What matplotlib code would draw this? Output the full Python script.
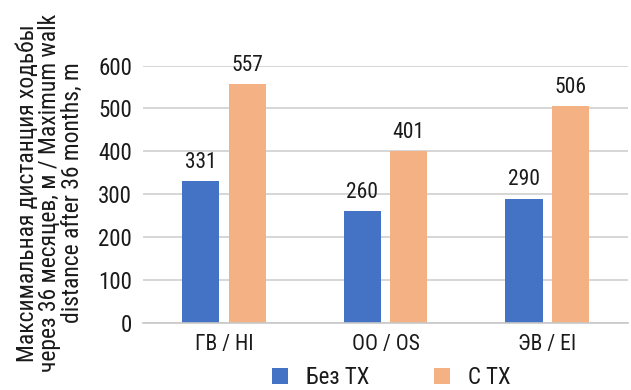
import matplotlib
matplotlib.use("Agg")
import matplotlib.pyplot as plt
import numpy as np
from matplotlib import font_manager

names = {f.name for f in font_manager.fontManager.ttflist}
family = "DejaVu Sans"
for cand in ("Roboto Condensed", "Liberation Sans Narrow", "Open Sans Condensed"):
    if cand in names:
        family = cand
        break
plt.rcParams["font.family"] = [family, "DejaVu Sans"]
if family == "DejaVu Sans":
    plt.rcParams["font.stretch"] = "condensed"

categories = ["ГВ / HI", "ОО / OS", "ЭВ / EI"]
without_tx = [331, 260, 290]
with_tx = [557, 401, 506]
series_names = ["Без ТХ", "С ТХ"]
yticks = [0, 100, 200, 300, 400, 500, 600]

blue = "#4472C4"
orange = "#F4B183"
ink = "#1a1a1a"

fig = plt.figure(figsize=(6.31, 3.90), dpi=100)
ax = fig.add_axes([0.227, 0.172, 0.768, 0.66])

x = np.arange(len(categories))
w = 0.23
off = 0.143
b1 = ax.bar(x - off, without_tx, w, color=blue, zorder=3)
b2 = ax.bar(x + off, with_tx, w, color=orange, zorder=3)

for bars, vals in ((b1, without_tx), (b2, with_tx)):
    for rect, v in zip(bars, vals):
        ax.annotate(f"{v}", (rect.get_x() + rect.get_width() / 2, v),
                    xytext=(0, 6), textcoords="offset points",
                    ha="center", va="bottom", fontsize=15.5, color=ink)

ax.set_xlim(-0.5, len(categories) - 0.5)
ax.set_ylim(0, 600)
ax.set_yticks(yticks)
ax.set_yticklabels([str(t) for t in yticks], fontsize=16.5, color=ink)
ax.set_xticks(x)
ax.set_xticklabels(categories, fontsize=15.5, color=ink)
ax.tick_params(axis="y", length=0, pad=8)
ax.tick_params(axis="x", length=0, pad=8)

ax.grid(axis="y", color="#d0d0d0", linewidth=1.2, zorder=0)
for s in ("top", "right", "left"):
    ax.spines[s].set_visible(False)
ax.spines["bottom"].set_color("#c8c8c8")
ax.spines["bottom"].set_linewidth(1.2)
ax.spines["bottom"].set_zorder(4)

fig.text(0.079, 0.505,
         "Максимальная дистанция ходьбы\nчерез 36 месяцев, м / Maximum walk\ndistance after 36 months, m",
         rotation=90, ha="center", va="center", fontsize=17,
         color=ink, linespacing=0.97)

leg = fig.legend([b1, b2], series_names, loc="lower center",
                 bbox_to_anchor=(0.62, -0.05), ncol=2, frameon=False,
                 fontsize=16.5, handlelength=0.7, handleheight=0.7,
                 columnspacing=2.8, handletextpad=0.8)
for t in leg.get_texts():
    t.set_color(ink)

fig.savefig("out.png", dpi=100)
